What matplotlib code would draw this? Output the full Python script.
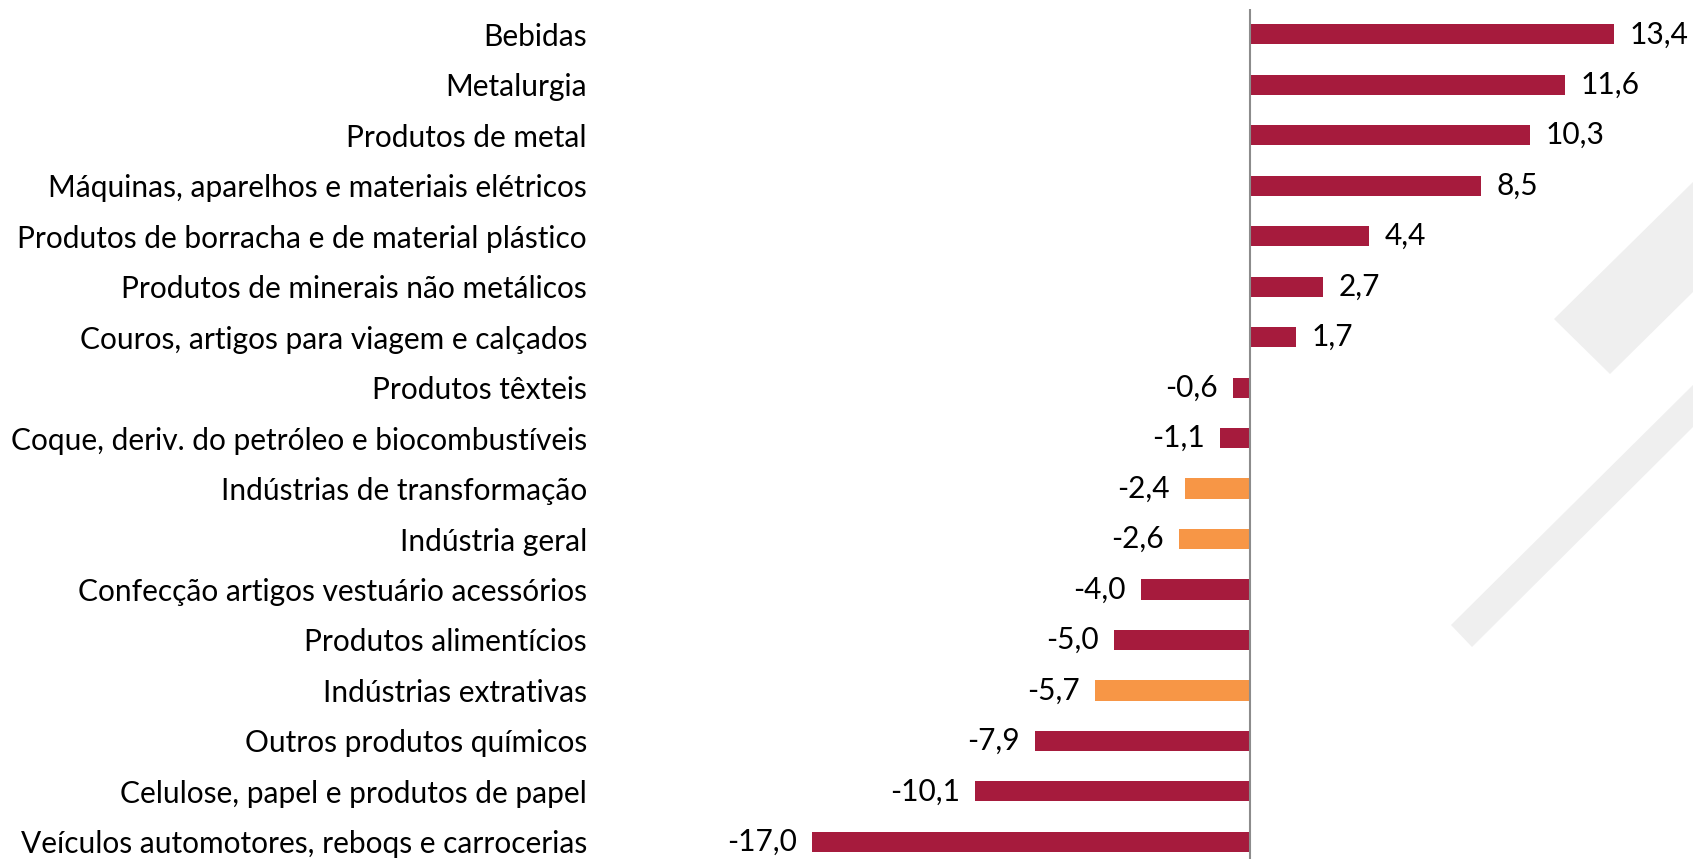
import matplotlib
matplotlib.use("Agg")
import matplotlib.pyplot as plt
from matplotlib.patches import Polygon

categorias = [
    "Bebidas",
    "Metalurgia",
    "Produtos de metal",
    "Máquinas, aparelhos e materiais elétricos",
    "Produtos de borracha e de material plástico",
    "Produtos de minerais não metálicos",
    "Couros, artigos para viagem e calçados",
    "Produtos têxteis",
    "Coque, deriv. do petróleo e biocombustíveis",
    "Indústrias de transformação",
    "Indústria geral",
    "Confecção artigos vestuário acessórios",
    "Produtos alimentícios",
    "Indústrias extrativas",
    "Outros produtos químicos",
    "Celulose, papel e produtos de papel",
    "Veículos automotores, reboqs e carrocerias",
]
valores = [13.4, 11.6, 10.3, 8.5, 4.4, 2.7, 1.7, -0.6, -1.1, -2.4, -2.6,
           -4.0, -5.0, -5.7, -7.9, -10.1, -17.0]
destaques = ["Indústrias de transformação", "Indústria geral", "Indústrias extrativas"]

vermelho = "#A61B3D"
laranja = "#F79646"
cores = [laranja if c in destaques else vermelho for c in categorias]

plt.rcParams['font.family'] = ['Lato', 'DejaVu Sans']
W, H = 1693, 859
fig = plt.figure(figsize=(W / 100, H / 100), dpi=100)

# faixas diagonais cinza ao fundo (marca d'agua)
faixas = [
    [(1554, 319), (1693, 182), (1693, 292), (1610, 374)],
    [(1451, 625), (1693, 385), (1693, 427), (1472, 647)],
]
for f in faixas:
    pts = [(x / W, 1 - y / H) for x, y in f]
    fig.add_artist(Polygon(pts, closed=True, transform=fig.transFigure,
                           facecolor="#EFEFEF", edgecolor="none", zorder=-5))

xmin, xmax = -16.1, 16.3
left = 812 / W
ax = fig.add_axes([left, 0, 1 - left, 1 - 8.6 / H])
ax.patch.set_alpha(0)

y = list(range(len(categorias)))
ax.barh(y, valores, height=0.4, color=cores)
ax.set_xlim(xmin, xmax)
ax.set_ylim(len(categorias) - 1 + 0.34, -0.51)

ax.tick_params(axis='y', length=0, pad=162, labelsize=21.5)
ax.set_yticks(y)
ax.set_yticklabels(categorias)
ax.set_xticks([])
for s in ax.spines.values():
    s.set_visible(False)
ax.axvline(0, color="#8C8C8C", linewidth=1.5)

for i, v in enumerate(valores):
    rotulo = f"{v:.1f}".replace(".", ",")
    xpos = max(v, xmin)
    if v >= 0:
        ax.annotate(rotulo, (xpos, i), xytext=(11, 0), textcoords="offset points",
                    ha="left", va="center", fontsize=21.5, annotation_clip=False)
    else:
        ax.annotate(rotulo, (xpos, i), xytext=(-11, 0), textcoords="offset points",
                    ha="right", va="center", fontsize=21.5, annotation_clip=False)

plt.savefig("out.png", dpi=100)
plt.close()
